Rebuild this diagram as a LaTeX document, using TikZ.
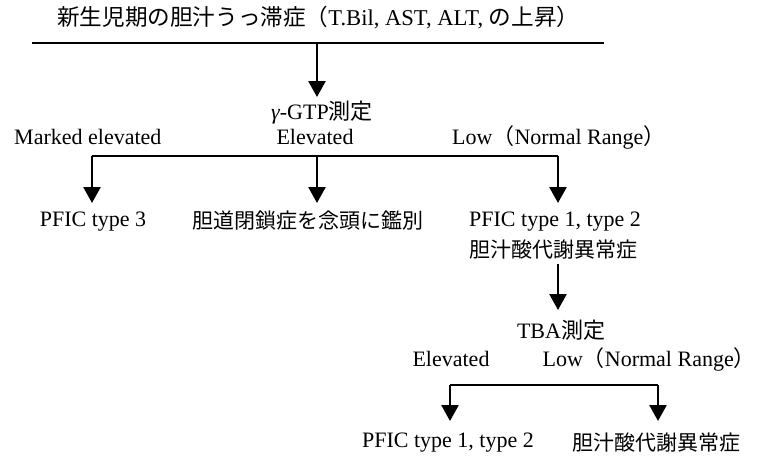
\documentclass[tikz,border=0pt]{standalone}
\usepackage{fontspec}
\setmainfont{Liberation Serif}
\newfontfamily\jpfont{Noto Sans CJK JP}
\newcommand\J[1]{{\jpfont #1}}
\usetikzlibrary{arrows.meta}
\begin{document}
\begin{tikzpicture}[x=1pt,y=-1pt,
  lbl/.style={inner sep=0pt,font=\fontsize{22}{26}\selectfont},
  jlbl/.style={inner sep=0pt,font=\fontsize{21}{26}\selectfont\jpfont},
  conn/.style={line width=2.6pt},
  arr/.style={line width=2.6pt,-{Triangle[width=17pt,length=16pt]}}]
\useasboundingbox (0,0) rectangle (759,463);
% title
\node[lbl,anchor=west,font=\fontsize{22.6}{26}\selectfont] (title) at (57,18) {\J{新生児期の胆汁うっ滞症（}T.Bil, AST, ALT, \J{の上昇）}};
\coordinate (tl) at (32,43);
\coordinate (tr) at (604,43);
\coordinate (tm) at (317,43);
\draw[conn] (tl) -- (tr);
\node[lbl] (ggtp) at (322,113) {{\itshape γ}-GTP\J{測定}};
\draw[arr] (tm) -- (317,97);
% branch labels
\node[lbl,anchor=west] (me) at (14,137) {Marked elevated};
\node[lbl] (el1) at (315,137) {Elevated};
\node[lbl,anchor=west] (low1) at (452,137) {Low\J{（}Normal Range\J{）}};
% branch line
\coordinate (b1) at (92,156);
\coordinate (b2) at (317,156);
\coordinate (b3) at (558,156);
\draw[conn] (b1) -- (b3);
\node[lbl] (pfic3) at (93,222) {PFIC type 3};
\node[jlbl] (ba) at (308,221) {胆道閉鎖症を念頭に鑑別};
\node[lbl,anchor=west] (pfic12) at (469,222) {PFIC type 1, type 2};
\node[jlbl,anchor=west] (bam) at (469,250) {胆汁酸代謝異常症};
\draw[arr] (b1) -- (92,203);
\draw[arr] (b2) -- (317,203);
\draw[arr] (b3) -- (558,203);
% TBA
\coordinate (s1) at (558,264);
\node[lbl] (tba) at (561,330) {TBA\J{測定}};
\draw[arr] (s1) -- (558,310);
\node[lbl] (el2) at (451,359) {Elevated};
\node[lbl,anchor=east] (low2) at (756,359) {Low\J{（}Normal Range\J{）}};
\coordinate (c1) at (450,385);
\coordinate (c2) at (658,385);
\draw[conn] (c1) -- (c2);
\node[lbl] (pfic12b) at (448,443) {PFIC type 1, type 2};
\node[jlbl,anchor=west] (bam2) at (572,443) {胆汁酸代謝異常症};
\draw[arr] (c1) -- (450,421);
\draw[arr] (c2) -- (658,421);
\end{tikzpicture}
\end{document}
